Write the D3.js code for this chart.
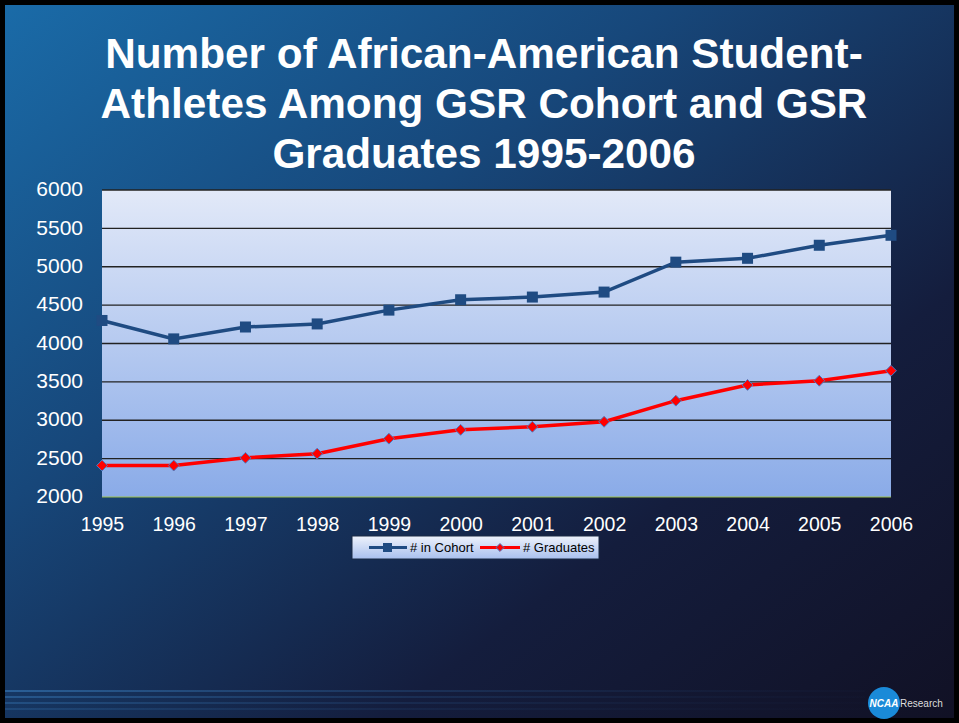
<!DOCTYPE html>
<html>
<head>
<meta charset="utf-8">
<script src="https://cdn.jsdelivr.net/npm/d3@7"></script>
<style>
  body { margin: 0; background: #fff; }
  svg { display: block; font-family: Arial, "Liberation Sans", sans-serif; }
</style>
</head>
<body>
<svg id="chart" width="959" height="723"></svg>
<script>
//Chart data
const years = ["1995", "1996", "1997", "1998", "1999", "2000", "2001", "2002", "2003", "2004", "2005", "2006"];
const cohort = [4300, 4060, 4215, 4255, 4435, 4570, 4605, 4670, 5060, 5110, 5280, 5410];
const graduates = [2410, 2410, 2510, 2565, 2760, 2875, 2915, 2980, 3255, 3460, 3515, 3645];
const yTicks = [2000, 2500, 3000, 3500, 4000, 4500, 5000, 5500, 6000];
const titleLines = ["Number of African-American Student-", "Athletes Among GSR Cohort and GSR", "Graduates 1995-2006"];

let svg = d3.select("#chart");
let defs = svg.append("defs");

//Slide background
let bg = defs.append("linearGradient").attr("id", "bg")
    .attr("x1", "0").attr("y1", "0").attr("x2", "1").attr("y2", "1");
bg.append("stop").attr("offset", "0").attr("stop-color", "#1a6ba8");
bg.append("stop").attr("offset", "0.35").attr("stop-color", "#17477a");
bg.append("stop").attr("offset", "0.7").attr("stop-color", "#141d3d");
bg.append("stop").attr("offset", "1").attr("stop-color", "#111125");

let plotBg = defs.append("linearGradient").attr("id", "plotBg")
    .attr("x1", "0").attr("y1", "0").attr("x2", "0").attr("y2", "1");
plotBg.append("stop").attr("offset", "0").attr("stop-color", "#e2e9f8");
plotBg.append("stop").attr("offset", "1").attr("stop-color", "#8aabe8");

let legBg = defs.append("linearGradient").attr("id", "legBg")
    .attr("x1", "0").attr("y1", "0").attr("x2", "0").attr("y2", "1");
legBg.append("stop").attr("offset", "0").attr("stop-color", "#eef2fb");
legBg.append("stop").attr("offset", "1").attr("stop-color", "#a9c0ee");

let band = defs.append("linearGradient").attr("id", "band")
    .attr("x1", "0").attr("y1", "0").attr("x2", "1").attr("y2", "0");
band.append("stop").attr("offset", "0").attr("stop-color", "#3a7fc0").attr("stop-opacity", 0.7);
band.append("stop").attr("offset", "0.5").attr("stop-color", "#2a5a90").attr("stop-opacity", 0.4);
band.append("stop").attr("offset", "1").attr("stop-color", "#1a2a50").attr("stop-opacity", 0.1);

svg.append("rect").attr("width", 959).attr("height", 723).attr("fill", "#000");
svg.append("rect").attr("x", 5).attr("y", 5).attr("width", 949).attr("height", 713).attr("fill", "url(#bg)");

//Bottom streaks
[690, 696, 702, 708].forEach((y, i) => {
    svg.append("rect").attr("x", 5).attr("y", y).attr("width", 860).attr("height", 2)
        .attr("fill", "url(#band)").attr("opacity", 0.8 - i * 0.15);
});

//Title
svg.append("g").selectAll("text")
    .data(titleLines)
    .enter().append("text")
    .attr("x", 484)
    .attr("y", (d, i) => 68 + i * 50)
    .attr("text-anchor", "middle")
    .attr("fill", "#fff")
    .attr("font-size", "42.3px")
    .attr("font-weight", "bold")
    .text(d => d);

//Scales
let x = d3.scalePoint().domain(years).range([102, 891]);
let y = d3.scaleLinear().domain([2000, 6000]).range([497, 190]);

svg.append("rect").attr("x", 102).attr("y", 190).attr("width", 789).attr("height", 307)
    .attr("fill", "url(#plotBg)");

//Gridlines
svg.append("g").selectAll("line")
    .data(yTicks.slice(1))
    .enter().append("line")
    .attr("x1", 102).attr("x2", 891)
    .attr("y1", d => y(d)).attr("y2", d => y(d))
    .attr("stroke", "#222")
    .attr("stroke-width", 1.3);
svg.append("line").attr("x1", 102).attr("x2", 891).attr("y1", 497).attr("y2", 497)
    .attr("stroke", "#9cc04a").attr("stroke-width", 1);

//Y axis labels
let yAxis = svg.append("g").attr("transform", "translate(100,-1)")
    .call(d3.axisLeft(y).tickValues(yTicks).tickFormat(d3.format("d")).tickSize(0).tickPadding(17));
yAxis.select(".domain").remove();
yAxis.selectAll("text").attr("fill", "#fff").attr("font-size", "21px")
    .attr("font-family", "Arial, 'Liberation Sans', sans-serif");

//X axis labels
let xAxis = svg.append("g").attr("transform", "translate(0,514)")
    .call(d3.axisBottom(x).tickSize(0).tickPadding(3));
xAxis.select(".domain").remove();
xAxis.selectAll("text").attr("fill", "#fff").attr("font-size", "19.5px")
    .attr("font-family", "Arial, 'Liberation Sans', sans-serif");

//Lines
let line = d3.line().x((d, i) => x(years[i])).y(d => y(d));

svg.append("path").datum(cohort)
    .attr("d", line)
    .attr("fill", "none")
    .attr("stroke", "#1f4b82")
    .attr("stroke-width", 3.5);
svg.append("g").selectAll("rect")
    .data(cohort)
    .enter().append("rect")
    .attr("x", (d, i) => x(years[i]) - 5.5)
    .attr("y", d => y(d) - 5.5)
    .attr("width", 11).attr("height", 11)
    .attr("fill", "#1f4b82");

svg.append("path").datum(graduates)
    .attr("d", line)
    .attr("fill", "none")
    .attr("stroke", "#ff0000")
    .attr("stroke-width", 3.5);
svg.append("g").selectAll("path")
    .data(graduates)
    .enter().append("path")
    .attr("d", d3.symbol().type(d3.symbolDiamond2).size(75))
    .attr("transform", (d, i) => "translate(" + x(years[i]) + "," + y(d) + ")")
    .attr("fill", "#ff0000")
    .attr("stroke", "#4a7cc4")
    .attr("stroke-width", 1);

//Legend
let leg = svg.append("g").attr("transform", "translate(352,536)");
leg.append("rect").attr("width", 247).attr("height", 23)
    .attr("fill", "url(#legBg)").attr("stroke", "#1a2a44").attr("stroke-width", 1);
leg.append("line").attr("x1", 17).attr("x2", 55).attr("y1", 11.5).attr("y2", 11.5)
    .attr("stroke", "#1f4b82").attr("stroke-width", 3);
leg.append("rect").attr("x", 31).attr("y", 7).attr("width", 9).attr("height", 9).attr("fill", "#1f4b82");
leg.append("text").attr("x", 58).attr("y", 16).attr("font-size", "13px").attr("fill", "#000").text("# in Cohort");
leg.append("line").attr("x1", 128).attr("x2", 168).attr("y1", 11.5).attr("y2", 11.5)
    .attr("stroke", "#ff0000").attr("stroke-width", 3);
leg.append("path").attr("d", d3.symbol().type(d3.symbolDiamond2).size(40))
    .attr("transform", "translate(148,11.5)")
    .attr("fill", "#ff0000").attr("stroke", "#4a7cc4").attr("stroke-width", 1);
leg.append("text").attr("x", 171).attr("y", 16).attr("font-size", "13px").attr("fill", "#000").text("# Graduates");

//NCAA logo
let logo = svg.append("g").attr("transform", "translate(884,703)");
logo.append("circle").attr("r", 16).attr("fill", "#1a8ad8");
logo.append("text").attr("x", 0).attr("y", 4).attr("text-anchor", "middle")
    .attr("font-size", "10px").attr("font-weight", "bold").attr("font-style", "italic")
    .attr("fill", "#fff").text("NCAA");
logo.append("text").attr("x", 16).attr("y", 4)
    .attr("font-size", "10px").attr("fill", "#ddd").text("Research");
</script>
</body>
</html>
